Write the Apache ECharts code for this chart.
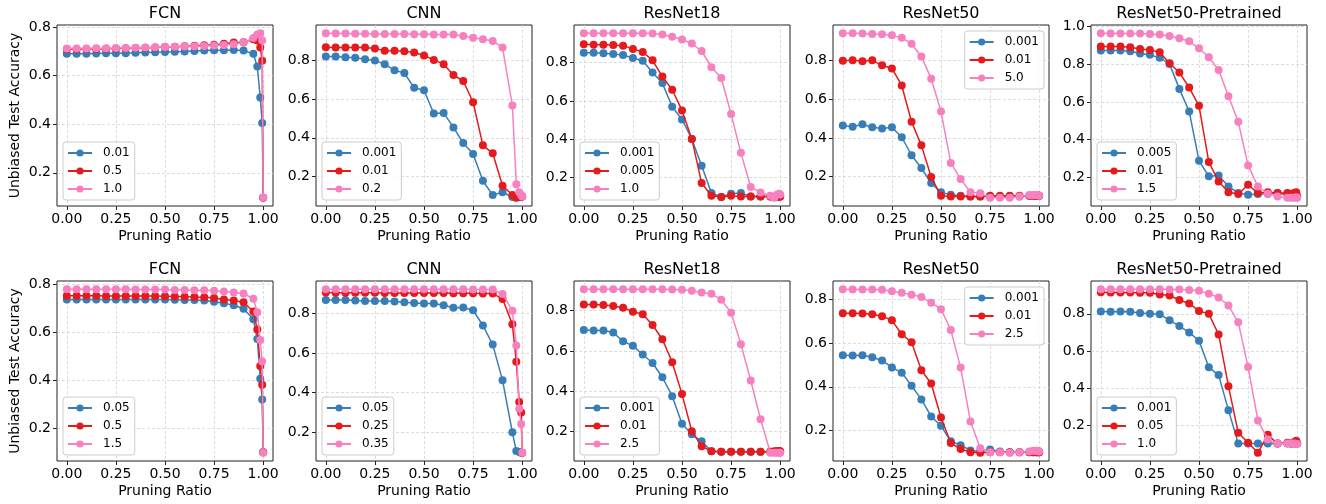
<!DOCTYPE html>
<html><head><meta charset="utf-8">
<script src="https://cdn.jsdelivr.net/npm/echarts@6/dist/echarts.min.js"></script>
<style>html,body{margin:0;padding:0;background:#fff}#c{width:1326px;height:504px}</style>
</head><body><div id="c"></div>
<script>
// ---- data ----
const xs = [0,0.05,0.1,0.15,0.2,0.25,0.3,0.35,0.4,0.45,0.5,0.55,0.6,0.65,0.7,0.75,0.8,0.85,0.9,0.95,0.97,0.985,0.995,1.0];
const xTicks = [0,0.25,0.5,0.75,1.0];
const yTicks = [0.2,0.4,0.6,0.8,1.0];
const titles = ['FCN','CNN','ResNet18','ResNet50','ResNet50-Pretrained','FCN','CNN','ResNet18','ResNet50','ResNet50-Pretrained'];

const lblTopFCN = ['0.01','0.5','1.0'];
const lblTopCNN = ['0.001','0.01','0.2'];
const lblTopR18 = ['0.001','0.005','1.0'];
const lblTopR50 = ['0.001','0.01','5.0'];
const lblTopR50P = ['0.005','0.01','1.5'];
const lblBotFCN = ['0.05','0.5','1.5'];
const lblBotCNN = ['0.05','0.25','0.35'];
const lblBotR18 = ['0.001','0.01','2.5'];
const lblBotR50 = ['0.001','0.01','2.5'];
const lblBotR50P = ['0.001','0.05','1.0'];

const topFCN_1 = [0.690,0.690,0.690,0.691,0.692,0.692,0.693,0.695,0.696,0.697,0.698,0.699,0.700,0.702,0.704,0.705,0.705,0.706,0.704,0.690,0.638,0.510,0.405,0.097];
const topFCN_2 = [0.709,0.709,0.710,0.710,0.711,0.712,0.713,0.714,0.715,0.716,0.718,0.719,0.721,0.723,0.725,0.728,0.732,0.737,0.738,0.750,0.745,0.716,0.662,0.097];
const topFCN_3 = [0.712,0.712,0.712,0.713,0.713,0.714,0.714,0.715,0.716,0.717,0.718,0.719,0.720,0.721,0.722,0.724,0.727,0.730,0.737,0.755,0.770,0.775,0.745,0.097];

const topCNN_1 = [0.820,0.820,0.817,0.814,0.807,0.800,0.781,0.749,0.735,0.659,0.646,0.526,0.529,0.454,0.373,0.316,0.178,0.104,0.118,0.094,0.094,0.100,0.097,0.097];
const topCNN_2 = [0.869,0.867,0.867,0.867,0.867,0.862,0.851,0.851,0.848,0.841,0.826,0.803,0.781,0.725,0.694,0.584,0.361,0.320,0.152,0.104,0.090,0.094,0.097,0.097];
const topCNN_3 = [0.941,0.940,0.939,0.938,0.938,0.937,0.937,0.937,0.937,0.936,0.936,0.935,0.934,0.934,0.927,0.918,0.910,0.901,0.867,0.567,0.160,0.118,0.104,0.097];

const topR18_1 = [0.852,0.852,0.849,0.845,0.840,0.824,0.810,0.749,0.693,0.569,0.503,0.401,0.261,0.118,0.097,0.114,0.118,0.100,0.100,0.100,0.097,0.100,0.100,0.100];
const topR18_2 = [0.896,0.894,0.894,0.893,0.889,0.872,0.856,0.812,0.727,0.658,0.550,0.401,0.170,0.104,0.097,0.104,0.100,0.100,0.100,0.100,0.097,0.097,0.100,0.100];
const topR18_3 = [0.954,0.954,0.954,0.954,0.954,0.954,0.954,0.952,0.947,0.936,0.921,0.900,0.861,0.776,0.720,0.531,0.328,0.149,0.121,0.104,0.093,0.110,0.114,0.110];

const topR50_1 = [0.465,0.458,0.471,0.456,0.449,0.456,0.404,0.311,0.245,0.167,0.119,0.107,0.101,0.098,0.098,0.098,0.098,0.098,0.098,0.101,0.101,0.101,0.101,0.101];
const topR50_2 = [0.800,0.802,0.797,0.802,0.776,0.760,0.672,0.484,0.362,0.198,0.101,0.098,0.098,0.098,0.098,0.101,0.101,0.101,0.101,0.101,0.101,0.101,0.101,0.101];
const topR50_3 = [0.942,0.942,0.941,0.938,0.937,0.931,0.918,0.888,0.822,0.707,0.537,0.271,0.188,0.119,0.115,0.091,0.091,0.091,0.098,0.105,0.105,0.105,0.105,0.101];

const topR50P_1 = [0.873,0.873,0.873,0.869,0.857,0.850,0.835,0.802,0.669,0.549,0.287,0.204,0.209,0.150,0.115,0.106,0.110,0.112,0.115,0.106,0.106,0.100,0.100,0.100];
const topR50P_2 = [0.894,0.894,0.894,0.890,0.881,0.876,0.864,0.805,0.756,0.676,0.579,0.280,0.177,0.119,0.110,0.159,0.115,0.120,0.115,0.115,0.112,0.115,0.119,0.097];
const topR50P_3 = [0.965,0.964,0.964,0.963,0.963,0.961,0.958,0.950,0.938,0.922,0.885,0.837,0.770,0.630,0.494,0.262,0.150,0.112,0.097,0.090,0.090,0.090,0.093,0.090];

const botFCN_1 = [0.735,0.735,0.735,0.735,0.735,0.735,0.735,0.735,0.735,0.735,0.735,0.734,0.733,0.733,0.731,0.726,0.720,0.711,0.697,0.653,0.571,0.406,0.320,0.100];
const botFCN_2 = [0.751,0.751,0.751,0.751,0.750,0.750,0.750,0.750,0.750,0.750,0.749,0.748,0.747,0.745,0.744,0.741,0.735,0.731,0.724,0.685,0.610,0.459,0.381,0.100];
const botFCN_3 = [0.778,0.778,0.778,0.778,0.778,0.778,0.778,0.777,0.777,0.777,0.777,0.775,0.775,0.774,0.774,0.771,0.768,0.764,0.760,0.738,0.682,0.567,0.477,0.098];

const botCNN_1 = [0.866,0.866,0.866,0.864,0.862,0.862,0.861,0.859,0.855,0.852,0.849,0.849,0.840,0.827,0.829,0.815,0.738,0.642,0.462,0.200,0.106,0.101,0.097,0.097];
const botCNN_2 = [0.904,0.903,0.903,0.903,0.903,0.903,0.902,0.902,0.902,0.902,0.902,0.902,0.902,0.901,0.901,0.900,0.899,0.899,0.872,0.745,0.556,0.353,0.300,0.097];
const botCNN_3 = [0.921,0.921,0.921,0.921,0.921,0.921,0.921,0.921,0.921,0.921,0.921,0.921,0.921,0.921,0.921,0.920,0.920,0.919,0.897,0.812,0.637,0.319,0.242,0.097];

const botR18_1 = [0.704,0.702,0.701,0.691,0.648,0.625,0.582,0.540,0.469,0.375,0.238,0.185,0.150,0.101,0.098,0.098,0.098,0.098,0.098,0.098,0.098,0.098,0.098,0.098];
const botR18_2 = [0.831,0.831,0.828,0.823,0.815,0.795,0.782,0.729,0.658,0.544,0.385,0.200,0.126,0.101,0.098,0.098,0.098,0.098,0.098,0.098,0.101,0.102,0.102,0.101];
const botR18_3 = [0.907,0.907,0.907,0.907,0.907,0.907,0.907,0.907,0.907,0.906,0.904,0.899,0.891,0.884,0.855,0.790,0.633,0.453,0.260,0.093,0.093,0.093,0.093,0.093];

const botR50_1 = [0.545,0.544,0.545,0.536,0.521,0.489,0.465,0.405,0.342,0.264,0.221,0.150,0.132,0.108,0.103,0.112,0.103,0.100,0.100,0.100,0.100,0.100,0.100,0.100];
const botR50_2 = [0.738,0.738,0.736,0.733,0.724,0.705,0.641,0.605,0.476,0.415,0.259,0.142,0.114,0.100,0.097,0.100,0.100,0.100,0.100,0.100,0.100,0.100,0.100,0.100];
const botR50_3 = [0.848,0.846,0.846,0.846,0.845,0.839,0.832,0.823,0.812,0.786,0.756,0.661,0.488,0.241,0.118,0.100,0.100,0.097,0.100,0.103,0.106,0.106,0.106,0.103];

const botR50P_1 = [0.813,0.811,0.813,0.811,0.804,0.800,0.798,0.766,0.734,0.700,0.655,0.512,0.470,0.281,0.101,0.101,0.101,0.101,0.101,0.101,0.101,0.101,0.101,0.101];
const botR50P_2 = [0.916,0.915,0.915,0.915,0.914,0.914,0.904,0.899,0.875,0.856,0.816,0.800,0.689,0.410,0.159,0.105,0.051,0.148,0.101,0.105,0.101,0.109,0.116,0.101];
const botR50P_3 = [0.933,0.933,0.933,0.933,0.933,0.933,0.933,0.931,0.931,0.929,0.924,0.909,0.888,0.845,0.755,0.513,0.225,0.123,0.101,0.101,0.101,0.101,0.098,0.098];

// ---- layout & style ----
const colors = ['#377eb8','#e41a1c','#f781bf'];
const FONT = 'DejaVu Sans';
const panels = [
  {labels: lblTopFCN,  series: [topFCN_1, topFCN_2, topFCN_3]},
  {labels: lblTopCNN,  series: [topCNN_1, topCNN_2, topCNN_3]},
  {labels: lblTopR18,  series: [topR18_1, topR18_2, topR18_3]},
  {labels: lblTopR50,  series: [topR50_1, topR50_2, topR50_3], upperRight: true},
  {labels: lblTopR50P, series: [topR50P_1, topR50P_2, topR50P_3]},
  {labels: lblBotFCN,  series: [botFCN_1, botFCN_2, botFCN_3]},
  {labels: lblBotCNN,  series: [botCNN_1, botCNN_2, botCNN_3]},
  {labels: lblBotR18,  series: [botR18_1, botR18_2, botR18_3]},
  {labels: lblBotR50,  series: [botR50_1, botR50_2, botR50_3], upperRight: true},
  {labels: lblBotR50P, series: [botR50P_1, botR50P_2, botR50P_3]}
];
const colLeft = [57, 316, 574, 833, 1091];
const W = 216;
const rowTop = [25, 281];
const rowH = [181, 180];

const nameMap = {};
const option = {
  animation: false,
  backgroundColor: '#ffffff',
  textStyle: {fontFamily: FONT},
  title: [], grid: [], xAxis: [], yAxis: [], legend: [], series: []
};

panels.forEach((p, i) => {
  const r = Math.floor(i / 5), c = i % 5;
  const left = colLeft[c], top = rowTop[r], h = rowH[r];
  let lo = Infinity, hi = -Infinity;
  p.series.forEach(s => s.forEach(v => { lo = Math.min(lo, v); hi = Math.max(hi, v); }));
  const pad = (hi - lo) * 0.05;
  const ymin = lo - pad, ymax = hi + pad;
  const yt = yTicks.filter(v => v >= ymin && v <= ymax + 1e-9);

  option.title.push({
    text: titles[i], left: left + W / 2, top: top - 19, textAlign: 'center', padding: 0,
    textStyle: {fontSize: 16, fontWeight: 'normal', color: '#000', fontFamily: FONT}
  });
  option.grid.push({
    left: left, top: top, width: W, height: h, show: true,
    borderColor: '#222', borderWidth: 1, backgroundColor: 'transparent'
  });
  option.xAxis.push({
    gridIndex: i, type: 'value', min: -0.05, max: 1.05,
    axisLine: {show: false, onZero: false},
    axisTick: {show: true, length: 4, customValues: xTicks, lineStyle: {color: '#222', width: 1}},
    axisLabel: {customValues: xTicks, formatter: v => v.toFixed(2), fontSize: 14, color: '#000', margin: 6, fontFamily: FONT},
    splitLine: {show: true, lineStyle: {color: '#d4d4d4', width: 0.8, type: [3, 2]}},
    name: 'Pruning Ratio', nameLocation: 'middle', nameGap: 23,
    nameTextStyle: {fontSize: 14, color: '#000', fontFamily: FONT}
  });
  const ya = {
    gridIndex: i, type: 'value', min: ymin, max: ymax,
    axisLine: {show: false, onZero: false},
    axisTick: {show: true, length: 4, customValues: yt, lineStyle: {color: '#222', width: 1}},
    axisLabel: {customValues: yt, formatter: v => v.toFixed(1), fontSize: 14, color: '#000', margin: 6, fontFamily: FONT},
    splitLine: {show: true, lineStyle: {color: '#d4d4d4', width: 0.8, type: [3, 2]}}
  };
  if (c === 0) {
    ya.name = 'Unbiased Test Accuracy';
    ya.nameLocation = 'middle';
    ya.nameGap = 35;
    ya.nameTextStyle = {fontSize: 14, color: '#000', fontFamily: FONT};
  }
  option.yAxis.push(ya);

  const names = [];
  p.series.forEach((s, k) => {
    const nm = 'p' + i + '_' + k;
    nameMap[nm] = p.labels[k];
    names.push(nm);
    option.series.push({
      name: nm, type: 'line', xAxisIndex: i, yAxisIndex: i,
      data: xs.map((x, j) => [x, s[j]]),
      symbol: 'circle', symbolSize: 8, showSymbol: true,
      color: colors[k],
      lineStyle: {width: 1.5, color: colors[k]},
      itemStyle: {color: colors[k]},
      z: 2 + k
    });
  });
  const lg = {
    data: names, orient: 'vertical', selectedMode: false,
    formatter: n => nameMap[n],
    backgroundColor: 'rgba(255,255,255,0.85)', borderColor: '#cccccc', borderWidth: 1, borderRadius: 3,
    padding: [4, 5, 4, 4], itemGap: 4, itemWidth: 24, itemHeight: 9,
    textStyle: {fontSize: 12, color: '#000', lineHeight: 14, padding: [0, 0, 0, 6], fontFamily: FONT}
  };
  if (p.upperRight) {
    lg.right = 1326 - (left + W - 5);
    lg.top = top + 6;
  } else {
    lg.left = left + 6;
    lg.top = top + h - 6 - 58;
  }
  option.legend.push(lg);
});

const chart = echarts.init(document.getElementById('c'), null, {renderer: 'canvas'});
chart.setOption(option);
</script>
</body></html>
